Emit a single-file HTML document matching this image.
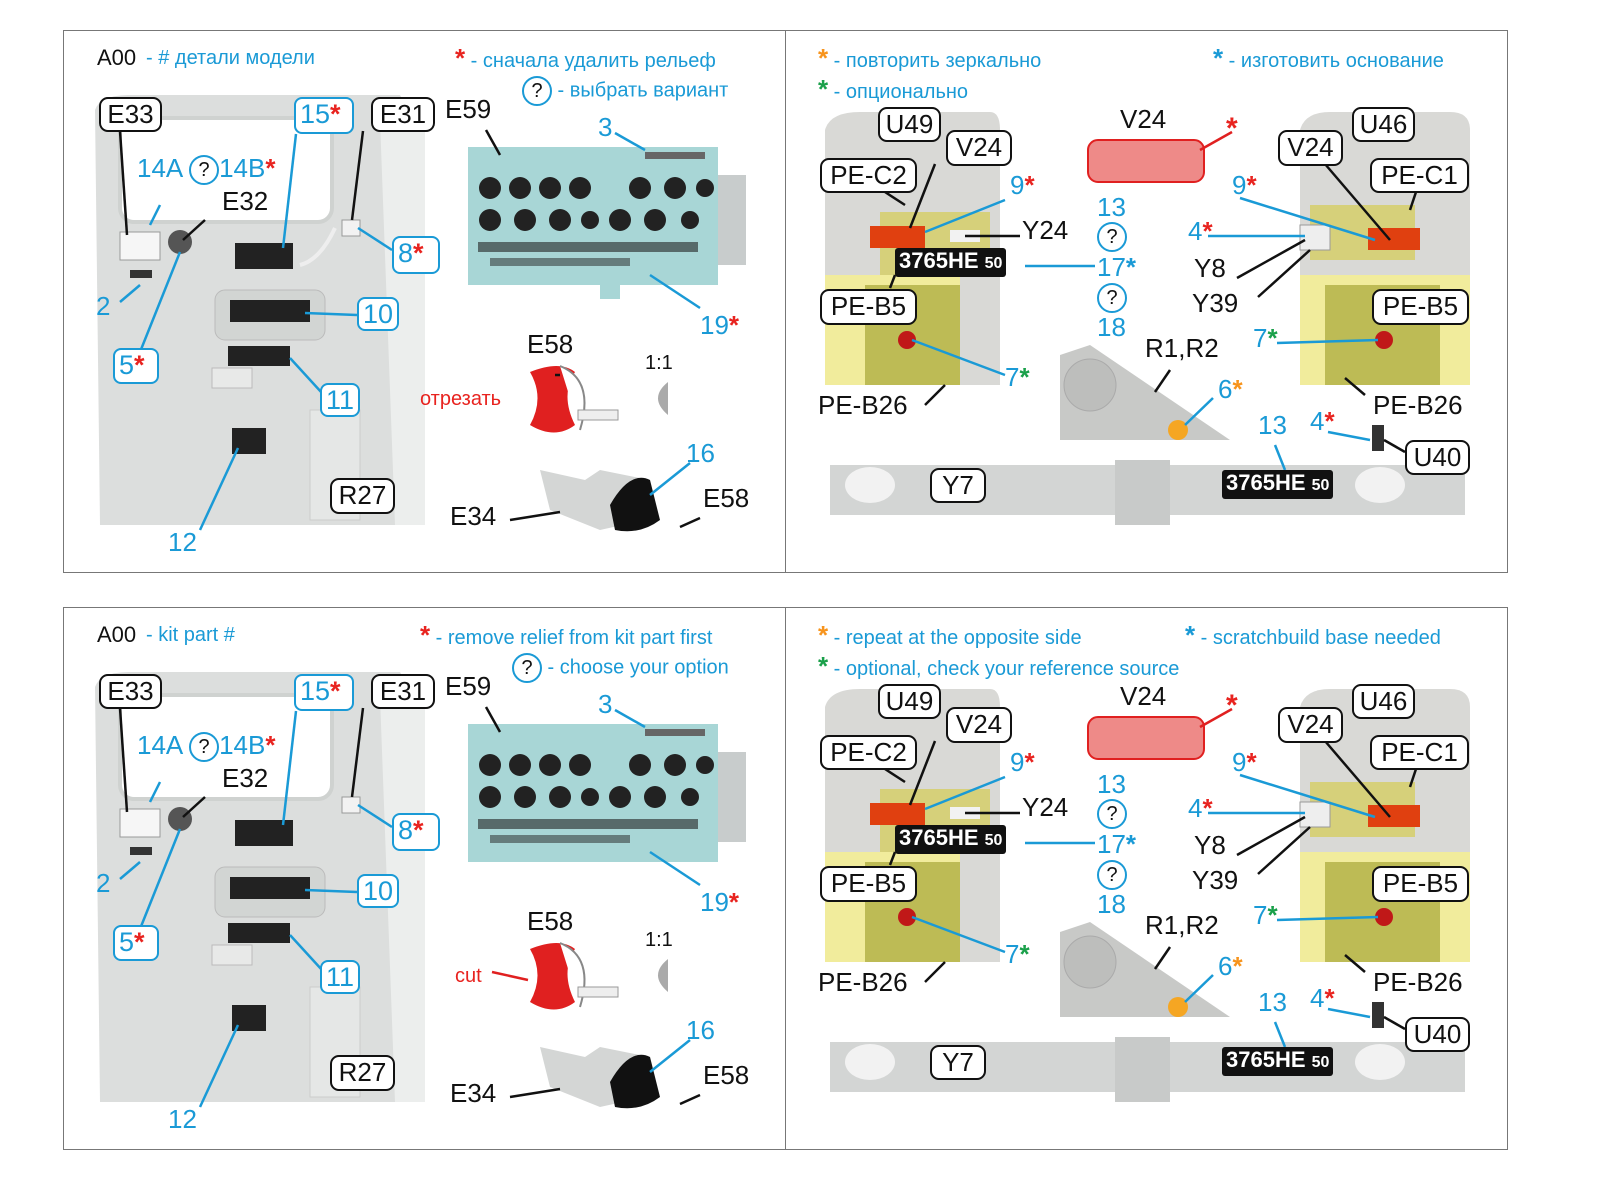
<!DOCTYPE html>
<html><head><meta charset="utf-8"><style>
body{margin:0;background:#fff;}
#w{position:relative;width:1600px;height:1200px;overflow:hidden;font-family:"Liberation Sans","DejaVu Sans",sans-serif;}
.h{position:absolute;left:0;width:1600px;height:560px;}
.fr{position:absolute;left:63px;top:30px;width:1443px;height:541px;border:1px solid #777;}
.dv{position:absolute;left:785px;top:30px;width:1px;height:542px;background:#777;}
.a{position:absolute;}
.b{position:absolute;border:2.5px solid #111;border-radius:9px;background:#fff;font-size:26px;line-height:30px;text-align:center;color:#111;box-sizing:border-box;}
.c{position:absolute;border:2.5px solid #1a9ad6;border-radius:8px;background:#fff;font-size:27px;line-height:30px;color:#1a9ad6;box-sizing:border-box;padding-left:4px;}
.t{position:absolute;font-size:26px;color:#111;white-space:nowrap;line-height:30px;}
.u{position:absolute;font-size:26px;color:#1a9ad6;white-space:nowrap;line-height:30px;}
.hd{position:absolute;font-size:20px;color:#1a9ad6;white-space:nowrap;line-height:24px;}
.r{color:#e8231f;font-weight:bold;}
.o{color:#f7941d;font-weight:bold;}
.g{color:#1aa04a;font-weight:bold;}
.bl{color:#1a9ad6;font-weight:bold;}
.q{display:inline-block;width:26px;height:26px;border:2.5px solid #1a9ad6;border-radius:50%;text-align:center;line-height:26px;font-size:20px;color:#111;vertical-align:middle;}
.pl{position:absolute;background:#111;color:#fff;font-weight:bold;font-size:22px;line-height:26px;border-radius:3px;padding:0 4px;white-space:nowrap;}
svg{position:absolute;left:0;top:0;}
</style></head><body><div id="w">

<!-- TOP HALF -->
<div class="h" style="top:0">
<div class="fr"></div><div class="dv"></div>
<svg width="1600" height="580">
 <!-- left panel graphic -->
 <path d="M95 110 Q100 95 130 95 L400 95 L425 140 L425 525 L100 525 Z" fill="#dcdedd"/>
 <path d="M380 120 L425 100 L425 525 L395 525 Z" fill="#eceeed"/>
 <rect x="120" y="118" width="212" height="104" rx="14" fill="#fff" stroke="#cfd2d0" stroke-width="4"/>
 <rect x="120" y="232" width="40" height="28" fill="#f6f6f6" stroke="#999"/>
 <circle cx="180" cy="242" r="12" fill="#555"/>
 <rect x="235" y="243" width="58" height="26" fill="#222"/>
 <rect x="215" y="290" width="110" height="50" rx="10" fill="#d2d5d3" stroke="#bbb"/>
 <rect x="230" y="300" width="80" height="22" fill="#222"/>
 <rect x="228" y="346" width="62" height="20" fill="#222"/>
 <rect x="212" y="368" width="40" height="20" fill="#e8e9e8" stroke="#bbb"/>
 <rect x="232" y="428" width="34" height="26" fill="#222"/>
 <rect x="130" y="270" width="22" height="8" fill="#333"/>
 <path d="M335 228 Q320 260 300 265" stroke="#eee" stroke-width="4" fill="none"/>
 <rect x="342" y="220" width="18" height="16" fill="#f2f2f2" stroke="#999"/>
 <path d="M310 410 L360 410 L360 520 L310 520 Z" fill="#e5e7e6" stroke="#ccc"/>
 <!-- instrument panel -->
 <rect x="468" y="147" width="250" height="138" fill="#a8d6d6"/>
 <rect x="718" y="175" width="28" height="90" fill="#c8cccc"/>
 <rect x="600" y="285" width="20" height="14" fill="#a8d6d6"/>
 <g fill="#222"><circle cx="490" cy="188" r="11"/><circle cx="520" cy="188" r="11"/><circle cx="550" cy="188" r="11"/><circle cx="580" cy="188" r="11"/><circle cx="640" cy="188" r="11"/><circle cx="675" cy="188" r="11"/><circle cx="705" cy="188" r="9"/>
 <circle cx="490" cy="220" r="11"/><circle cx="525" cy="220" r="11"/><circle cx="560" cy="220" r="11"/><circle cx="590" cy="220" r="9"/><circle cx="620" cy="220" r="11"/><circle cx="655" cy="220" r="11"/><circle cx="690" cy="220" r="9"/>
 <rect x="478" y="242" width="220" height="10" opacity=".6"/><rect x="490" y="258" width="140" height="8" opacity=".5"/></g>
 <rect x="645" y="152" width="60" height="7" fill="#666"/>
 <!-- E58 cut -->
 <path d="M530 372 Q560 360 575 372 Q560 395 575 425 Q555 440 530 425 Q545 398 530 372Z" fill="#e02020"/>
 <path d="M560 366 Q595 380 580 430" stroke="#888" stroke-width="2" fill="#fff"/>
 <rect x="578" y="410" width="40" height="10" fill="#eee" stroke="#999"/>
 <path d="M668 382 Q648 398 668 415 Z" fill="#aaa"/>
 <!-- E34 part -->
 <path d="M540 470 L585 480 L600 470 L640 478 L645 520 L600 530 L550 510 Z" fill="#d4d6d5"/>
 <path d="M610 505 Q630 470 650 480 L660 520 Q640 535 615 530 Z" fill="#111"/>
 <!-- right: left cab -->
 <path d="M825 130 Q830 112 860 112 L990 112 Q1000 112 1000 130 L1000 385 L825 385Z" fill="#d9d9d6"/>
 <rect x="825" y="275" width="135" height="110" fill="#f1ec9c"/>
 <rect x="865" y="285" width="95" height="100" fill="#bdbb55"/>
 <path d="M880 212 L990 212 L990 275 L880 275Z" fill="#d6d07a"/>
 <rect x="870" y="226" width="55" height="22" fill="#e04010"/>
 <rect x="950" y="230" width="30" height="12" fill="#f2f2f2"/>
 <circle cx="907" cy="340" r="9" fill="#c01818"/>
 <!-- V24 red -->
 <rect x="1088" y="140" width="116" height="42" rx="10" fill="#ee8a88" stroke="#e02020" stroke-width="2"/>
 <!-- plate R1R2 -->
 <path d="M1060 355 L1090 345 L1230 440 L1060 440 Z" fill="#c8c9c7"/>
 <circle cx="1090" cy="385" r="26" fill="#bdbebc" stroke="#aaa"/>
 <circle cx="1178" cy="430" r="10" fill="#f5a623"/>
 <!-- right cab -->
 <path d="M1300 130 Q1305 112 1330 112 L1450 112 Q1470 112 1470 130 L1470 385 L1300 385Z" fill="#d9d9d6"/>
 <rect x="1300" y="275" width="170" height="110" fill="#f1ec9c"/>
 <rect x="1325" y="285" width="115" height="100" fill="#bdbb55"/>
 <path d="M1310 205 L1415 205 L1415 260 L1310 260Z" fill="#d6d07a"/>
 <rect x="1368" y="228" width="52" height="22" fill="#e04010"/>
 <rect x="1300" y="225" width="30" height="25" fill="#eee" stroke="#999"/>
 <circle cx="1384" cy="340" r="9" fill="#c01818"/>
 <rect x="1372" y="425" width="12" height="26" fill="#333"/>
 <!-- bumper -->
 <rect x="830" y="465" width="635" height="50" fill="#d3d5d4"/>
 <rect x="1115" y="460" width="55" height="65" fill="#c8cac9"/>
 <ellipse cx="870" cy="485" rx="25" ry="18" fill="#f2f2f2"/>
 <ellipse cx="1380" cy="485" rx="25" ry="18" fill="#f2f2f2"/>
 <!-- leaders black -->
 <g stroke="#111" stroke-width="2.5" fill="none">
  <path d="M120 131 L127 235"/><path d="M363 131 L352 220"/><path d="M205 220 L183 240"/>
  <path d="M486 130 L500 155"/><path d="M555 375 L560 375"/>
  <path d="M510 520 L560 512"/><path d="M680 527 L700 518"/>
  <path d="M935 164 L910 228"/><path d="M885 192 L905 205"/><path d="M965 236 L1020 236"/><path d="M890 288 L895 275"/><path d="M925 405 L945 385"/>
  <path d="M1155 392 L1170 370"/>
  <path d="M1325 164 L1390 240"/><path d="M1416 192 L1410 210"/><path d="M1237 278 L1305 240"/><path d="M1258 297 L1310 250"/><path d="M1345 378 L1365 395"/><path d="M1384 440 L1405 452"/>
 </g>
 <g stroke="#1a9ad6" stroke-width="2.5" fill="none">
  <path d="M150 225 L160 205"/><path d="M120 302 L140 285"/><path d="M140 352 L180 252"/><path d="M296 134 L283 248"/><path d="M392 250 L358 228"/><path d="M357 315 L305 313"/><path d="M322 393 L290 358"/><path d="M200 530 L238 448"/>
  <path d="M615 133 L645 150"/><path d="M700 308 L650 275"/><path d="M690 463 L650 495"/>
  <path d="M1005 200 L925 232"/><path d="M1095 266 L1025 266"/><path d="M1005 375 L912 340"/>
  <path d="M1213 398 L1185 425"/><path d="M1240 198 L1375 240"/><path d="M1208 236 L1305 236"/><path d="M1277 343 L1378 340"/><path d="M1275 445 L1285 470"/><path d="M1328 432 L1370 440"/>
 </g>
 <path d="M1200 150 L1232 132" stroke="#e02020" stroke-width="2.5"/>
</svg>

<div class="t" style="left:97px;top:43px;font-size:22px">A00</div>
<div class="hd" style="left:146px;top:46px">- # детали модели</div>
<div class="hd" style="left:455px;top:46px"><span class="r" style="font-size:26px">*</span> - сначала удалить рельеф</div>
<div class="hd" style="left:522px;top:76px"><span class="q">?</span> - выбрать вариант</div>
<div class="hd" style="left:818px;top:46px"><span class="o" style="font-size:26px">*</span> - повторить зеркально</div>
<div class="hd" style="left:1213px;top:46px"><span class="bl" style="font-size:26px">*</span> - изготовить основание</div>
<div class="hd" style="left:818px;top:77px"><span class="g" style="font-size:26px">*</span> - опционально</div>

<div class="b" style="left:99px;top:97px;width:63px;height:35px">E33</div>
<div class="c" style="left:294px;top:97px;width:60px;height:37px">15<span class="r">*</span></div>
<div class="b" style="left:371px;top:97px;width:64px;height:35px">E31</div>
<div class="t" style="left:445px;top:94px">E59</div>
<div class="u" style="left:137px;top:153px">14A <span class="q">?</span>14B<span class="r">*</span></div>
<div class="t" style="left:222px;top:186px">E32</div>
<div class="c" style="left:392px;top:236px;width:48px;height:38px">8<span class="r">*</span></div>
<div class="u" style="left:96px;top:291px">2</div>
<div class="c" style="left:357px;top:297px;width:42px;height:34px">10</div>
<div class="c" style="left:113px;top:348px;width:46px;height:36px">5<span class="r">*</span></div>
<div class="c" style="left:320px;top:383px;width:40px;height:34px">11</div>
<div class="b" style="left:330px;top:478px;width:65px;height:36px">R27</div>
<div class="u" style="left:168px;top:527px">12</div>
<div class="u" style="left:598px;top:112px">3</div>
<div class="u" style="left:700px;top:310px">19<span class="r">*</span></div>
<div class="t" style="left:527px;top:329px">E58</div>
<div class="t" style="left:645px;top:348px;font-size:20px">1:1</div>
<div class="a" style="left:420px;top:388px;font-size:20px;color:#e8231f">отрезать</div>
<div class="u" style="left:686px;top:438px">16</div>
<div class="t" style="left:703px;top:483px">E58</div>
<div class="t" style="left:450px;top:501px">E34</div>

<div class="b" style="left:878px;top:107px;width:63px;height:35px">U49</div>
<div class="b" style="left:946px;top:130px;width:66px;height:36px">V24</div>
<div class="b" style="left:820px;top:158px;width:97px;height:35px">PE-C2</div>
<div class="u" style="left:1010px;top:170px">9<span class="r">*</span></div>
<div class="t" style="left:1022px;top:215px">Y24</div>
<div class="pl" style="left:895px;top:248px">3765HE <span style="font-size:16px">50</span></div>
<div class="b" style="left:820px;top:289px;width:97px;height:36px">PE-B5</div>
<div class="u" style="left:1005px;top:362px">7<span class="g">*</span></div>
<div class="t" style="left:818px;top:390px">PE-B26</div>
<div class="t" style="left:1120px;top:104px">V24</div>
<div class="a" style="left:1226px;top:112px;font-size:30px" ><span class="r">*</span></div>
<div class="u" style="left:1097px;top:192px">13</div>
<div class="a" style="left:1097px;top:222px"><span class="q">?</span></div>
<div class="u" style="left:1097px;top:252px">17<span class="bl">*</span></div>
<div class="a" style="left:1097px;top:283px"><span class="q">?</span></div>
<div class="u" style="left:1097px;top:312px">18</div>
<div class="t" style="left:1145px;top:333px">R1,R2</div>
<div class="u" style="left:1218px;top:374px">6<span class="o">*</span></div>
<div class="b" style="left:1352px;top:107px;width:63px;height:35px">U46</div>
<div class="b" style="left:1278px;top:130px;width:65px;height:36px">V24</div>
<div class="b" style="left:1370px;top:158px;width:99px;height:35px">PE-C1</div>
<div class="u" style="left:1232px;top:170px">9<span class="r">*</span></div>
<div class="u" style="left:1188px;top:216px">4<span class="r">*</span></div>
<div class="t" style="left:1194px;top:253px">Y8</div>
<div class="t" style="left:1192px;top:288px">Y39</div>
<div class="b" style="left:1372px;top:289px;width:97px;height:36px">PE-B5</div>
<div class="u" style="left:1253px;top:323px">7<span class="g">*</span></div>
<div class="t" style="left:1373px;top:390px">PE-B26</div>
<div class="u" style="left:1258px;top:410px">13</div>
<div class="u" style="left:1310px;top:406px">4<span class="r">*</span></div>
<div class="b" style="left:1405px;top:440px;width:65px;height:35px">U40</div>
<div class="b" style="left:930px;top:468px;width:56px;height:35px">Y7</div>
<div class="pl" style="left:1222px;top:470px">3765HE <span style="font-size:16px">50</span></div>
</div>

<!-- BOTTOM HALF -->
<div class="h" style="top:577px">
<div class="fr"></div><div class="dv"></div>
<svg width="1600" height="580">
 <path d="M95 110 Q100 95 130 95 L400 95 L425 140 L425 525 L100 525 Z" fill="#dcdedd"/>
 <path d="M380 120 L425 100 L425 525 L395 525 Z" fill="#eceeed"/>
 <rect x="120" y="118" width="212" height="104" rx="14" fill="#fff" stroke="#cfd2d0" stroke-width="4"/>
 <rect x="120" y="232" width="40" height="28" fill="#f6f6f6" stroke="#999"/>
 <circle cx="180" cy="242" r="12" fill="#555"/>
 <rect x="235" y="243" width="58" height="26" fill="#222"/>
 <rect x="215" y="290" width="110" height="50" rx="10" fill="#d2d5d3" stroke="#bbb"/>
 <rect x="230" y="300" width="80" height="22" fill="#222"/>
 <rect x="228" y="346" width="62" height="20" fill="#222"/>
 <rect x="212" y="368" width="40" height="20" fill="#e8e9e8" stroke="#bbb"/>
 <rect x="232" y="428" width="34" height="26" fill="#222"/>
 <rect x="130" y="270" width="22" height="8" fill="#333"/>
 <rect x="342" y="220" width="18" height="16" fill="#f2f2f2" stroke="#999"/>
 <path d="M310 410 L360 410 L360 520 L310 520 Z" fill="#e5e7e6" stroke="#ccc"/>
 <rect x="468" y="147" width="250" height="138" fill="#a8d6d6"/>
 <rect x="718" y="175" width="28" height="90" fill="#c8cccc"/>
 <g fill="#222"><circle cx="490" cy="188" r="11"/><circle cx="520" cy="188" r="11"/><circle cx="550" cy="188" r="11"/><circle cx="580" cy="188" r="11"/><circle cx="640" cy="188" r="11"/><circle cx="675" cy="188" r="11"/><circle cx="705" cy="188" r="9"/>
 <circle cx="490" cy="220" r="11"/><circle cx="525" cy="220" r="11"/><circle cx="560" cy="220" r="11"/><circle cx="590" cy="220" r="9"/><circle cx="620" cy="220" r="11"/><circle cx="655" cy="220" r="11"/><circle cx="690" cy="220" r="9"/>
 <rect x="478" y="242" width="220" height="10" opacity=".6"/><rect x="490" y="258" width="140" height="8" opacity=".5"/></g>
 <rect x="645" y="152" width="60" height="7" fill="#666"/>
 <path d="M530 372 Q560 360 575 372 Q560 395 575 425 Q555 440 530 425 Q545 398 530 372Z" fill="#e02020"/>
 <path d="M560 366 Q595 380 580 430" stroke="#888" stroke-width="2" fill="#fff"/>
 <rect x="578" y="410" width="40" height="10" fill="#eee" stroke="#999"/>
 <path d="M668 382 Q648 398 668 415 Z" fill="#aaa"/>
 <path d="M540 470 L585 480 L600 470 L640 478 L645 520 L600 530 L550 510 Z" fill="#d4d6d5"/>
 <path d="M610 505 Q630 470 650 480 L660 520 Q640 535 615 530 Z" fill="#111"/>
 <path d="M825 130 Q830 112 860 112 L990 112 Q1000 112 1000 130 L1000 385 L825 385Z" fill="#d9d9d6"/>
 <rect x="825" y="275" width="135" height="110" fill="#f1ec9c"/>
 <rect x="865" y="285" width="95" height="100" fill="#bdbb55"/>
 <path d="M880 212 L990 212 L990 275 L880 275Z" fill="#d6d07a"/>
 <rect x="870" y="226" width="55" height="22" fill="#e04010"/>
 <rect x="950" y="230" width="30" height="12" fill="#f2f2f2"/>
 <circle cx="907" cy="340" r="9" fill="#c01818"/>
 <rect x="1088" y="140" width="116" height="42" rx="10" fill="#ee8a88" stroke="#e02020" stroke-width="2"/>
 <path d="M1060 355 L1090 345 L1230 440 L1060 440 Z" fill="#c8c9c7"/>
 <circle cx="1090" cy="385" r="26" fill="#bdbebc" stroke="#aaa"/>
 <circle cx="1178" cy="430" r="10" fill="#f5a623"/>
 <path d="M1300 130 Q1305 112 1330 112 L1450 112 Q1470 112 1470 130 L1470 385 L1300 385Z" fill="#d9d9d6"/>
 <rect x="1300" y="275" width="170" height="110" fill="#f1ec9c"/>
 <rect x="1325" y="285" width="115" height="100" fill="#bdbb55"/>
 <path d="M1310 205 L1415 205 L1415 260 L1310 260Z" fill="#d6d07a"/>
 <rect x="1368" y="228" width="52" height="22" fill="#e04010"/>
 <rect x="1300" y="225" width="30" height="25" fill="#eee" stroke="#999"/>
 <circle cx="1384" cy="340" r="9" fill="#c01818"/>
 <rect x="1372" y="425" width="12" height="26" fill="#333"/>
 <rect x="830" y="465" width="635" height="50" fill="#d3d5d4"/>
 <rect x="1115" y="460" width="55" height="65" fill="#c8cac9"/>
 <ellipse cx="870" cy="485" rx="25" ry="18" fill="#f2f2f2"/>
 <ellipse cx="1380" cy="485" rx="25" ry="18" fill="#f2f2f2"/>
 <g stroke="#111" stroke-width="2.5" fill="none">
  <path d="M120 131 L127 235"/><path d="M363 131 L352 220"/><path d="M205 220 L183 240"/>
  <path d="M486 130 L500 155"/>
  <path d="M510 520 L560 512"/><path d="M680 527 L700 518"/>
  <path d="M935 164 L910 228"/><path d="M885 192 L905 205"/><path d="M965 236 L1020 236"/><path d="M890 288 L895 275"/><path d="M925 405 L945 385"/>
  <path d="M1155 392 L1170 370"/>
  <path d="M1325 164 L1390 240"/><path d="M1416 192 L1410 210"/><path d="M1237 278 L1305 240"/><path d="M1258 297 L1310 250"/><path d="M1345 378 L1365 395"/><path d="M1384 440 L1405 452"/>
 </g>
 <g stroke="#1a9ad6" stroke-width="2.5" fill="none">
  <path d="M150 225 L160 205"/><path d="M120 302 L140 285"/><path d="M140 352 L180 252"/><path d="M296 134 L283 248"/><path d="M392 250 L358 228"/><path d="M357 315 L305 313"/><path d="M322 393 L290 358"/><path d="M200 530 L238 448"/>
  <path d="M615 133 L645 150"/><path d="M700 308 L650 275"/><path d="M690 463 L650 495"/>
  <path d="M1005 200 L925 232"/><path d="M1095 266 L1025 266"/><path d="M1005 375 L912 340"/>
  <path d="M1213 398 L1185 425"/><path d="M1240 198 L1375 240"/><path d="M1208 236 L1305 236"/><path d="M1277 343 L1378 340"/><path d="M1275 445 L1285 470"/><path d="M1328 432 L1370 440"/>
 </g>
 <path d="M1200 150 L1232 132" stroke="#e02020" stroke-width="2.5"/>
 <path d="M492 395 L528 403" stroke="#e02020" stroke-width="2.5"/>
</svg>

<div class="t" style="left:97px;top:43px;font-size:22px">A00</div>
<div class="hd" style="left:146px;top:46px">- kit part #</div>
<div class="hd" style="left:420px;top:46px"><span class="r" style="font-size:26px">*</span> - remove relief from kit part first</div>
<div class="hd" style="left:512px;top:76px"><span class="q">?</span> - choose your option</div>
<div class="hd" style="left:818px;top:46px"><span class="o" style="font-size:26px">*</span> - repeat at the opposite side</div>
<div class="hd" style="left:1185px;top:46px"><span class="bl" style="font-size:26px">*</span> - scratchbuild base needed</div>
<div class="hd" style="left:818px;top:77px"><span class="g" style="font-size:26px">*</span> - optional, check your reference source</div>

<div class="b" style="left:99px;top:97px;width:63px;height:35px">E33</div>
<div class="c" style="left:294px;top:97px;width:60px;height:37px">15<span class="r">*</span></div>
<div class="b" style="left:371px;top:97px;width:64px;height:35px">E31</div>
<div class="t" style="left:445px;top:94px">E59</div>
<div class="u" style="left:137px;top:153px">14A <span class="q">?</span>14B<span class="r">*</span></div>
<div class="t" style="left:222px;top:186px">E32</div>
<div class="c" style="left:392px;top:236px;width:48px;height:38px">8<span class="r">*</span></div>
<div class="u" style="left:96px;top:291px">2</div>
<div class="c" style="left:357px;top:297px;width:42px;height:34px">10</div>
<div class="c" style="left:113px;top:348px;width:46px;height:36px">5<span class="r">*</span></div>
<div class="c" style="left:320px;top:383px;width:40px;height:34px">11</div>
<div class="b" style="left:330px;top:478px;width:65px;height:36px">R27</div>
<div class="u" style="left:168px;top:527px">12</div>
<div class="u" style="left:598px;top:112px">3</div>
<div class="u" style="left:700px;top:310px">19<span class="r">*</span></div>
<div class="t" style="left:527px;top:329px">E58</div>
<div class="t" style="left:645px;top:348px;font-size:20px">1:1</div>
<div class="a" style="left:455px;top:388px;font-size:20px;color:#e8231f">cut</div>
<div class="u" style="left:686px;top:438px">16</div>
<div class="t" style="left:703px;top:483px">E58</div>
<div class="t" style="left:450px;top:501px">E34</div>

<div class="b" style="left:878px;top:107px;width:63px;height:35px">U49</div>
<div class="b" style="left:946px;top:130px;width:66px;height:36px">V24</div>
<div class="b" style="left:820px;top:158px;width:97px;height:35px">PE-C2</div>
<div class="u" style="left:1010px;top:170px">9<span class="r">*</span></div>
<div class="t" style="left:1022px;top:215px">Y24</div>
<div class="pl" style="left:895px;top:248px">3765HE <span style="font-size:16px">50</span></div>
<div class="b" style="left:820px;top:289px;width:97px;height:36px">PE-B5</div>
<div class="u" style="left:1005px;top:362px">7<span class="g">*</span></div>
<div class="t" style="left:818px;top:390px">PE-B26</div>
<div class="t" style="left:1120px;top:104px">V24</div>
<div class="a" style="left:1226px;top:112px;font-size:30px"><span class="r">*</span></div>
<div class="u" style="left:1097px;top:192px">13</div>
<div class="a" style="left:1097px;top:222px"><span class="q">?</span></div>
<div class="u" style="left:1097px;top:252px">17<span class="bl">*</span></div>
<div class="a" style="left:1097px;top:283px"><span class="q">?</span></div>
<div class="u" style="left:1097px;top:312px">18</div>
<div class="t" style="left:1145px;top:333px">R1,R2</div>
<div class="u" style="left:1218px;top:374px">6<span class="o">*</span></div>
<div class="b" style="left:1352px;top:107px;width:63px;height:35px">U46</div>
<div class="b" style="left:1278px;top:130px;width:65px;height:36px">V24</div>
<div class="b" style="left:1370px;top:158px;width:99px;height:35px">PE-C1</div>
<div class="u" style="left:1232px;top:170px">9<span class="r">*</span></div>
<div class="u" style="left:1188px;top:216px">4<span class="r">*</span></div>
<div class="t" style="left:1194px;top:253px">Y8</div>
<div class="t" style="left:1192px;top:288px">Y39</div>
<div class="b" style="left:1372px;top:289px;width:97px;height:36px">PE-B5</div>
<div class="u" style="left:1253px;top:323px">7<span class="g">*</span></div>
<div class="t" style="left:1373px;top:390px">PE-B26</div>
<div class="u" style="left:1258px;top:410px">13</div>
<div class="u" style="left:1310px;top:406px">4<span class="r">*</span></div>
<div class="b" style="left:1405px;top:440px;width:65px;height:35px">U40</div>
<div class="b" style="left:930px;top:468px;width:56px;height:35px">Y7</div>
<div class="pl" style="left:1222px;top:470px">3765HE <span style="font-size:16px">50</span></div>
</div>

</div></body></html>
